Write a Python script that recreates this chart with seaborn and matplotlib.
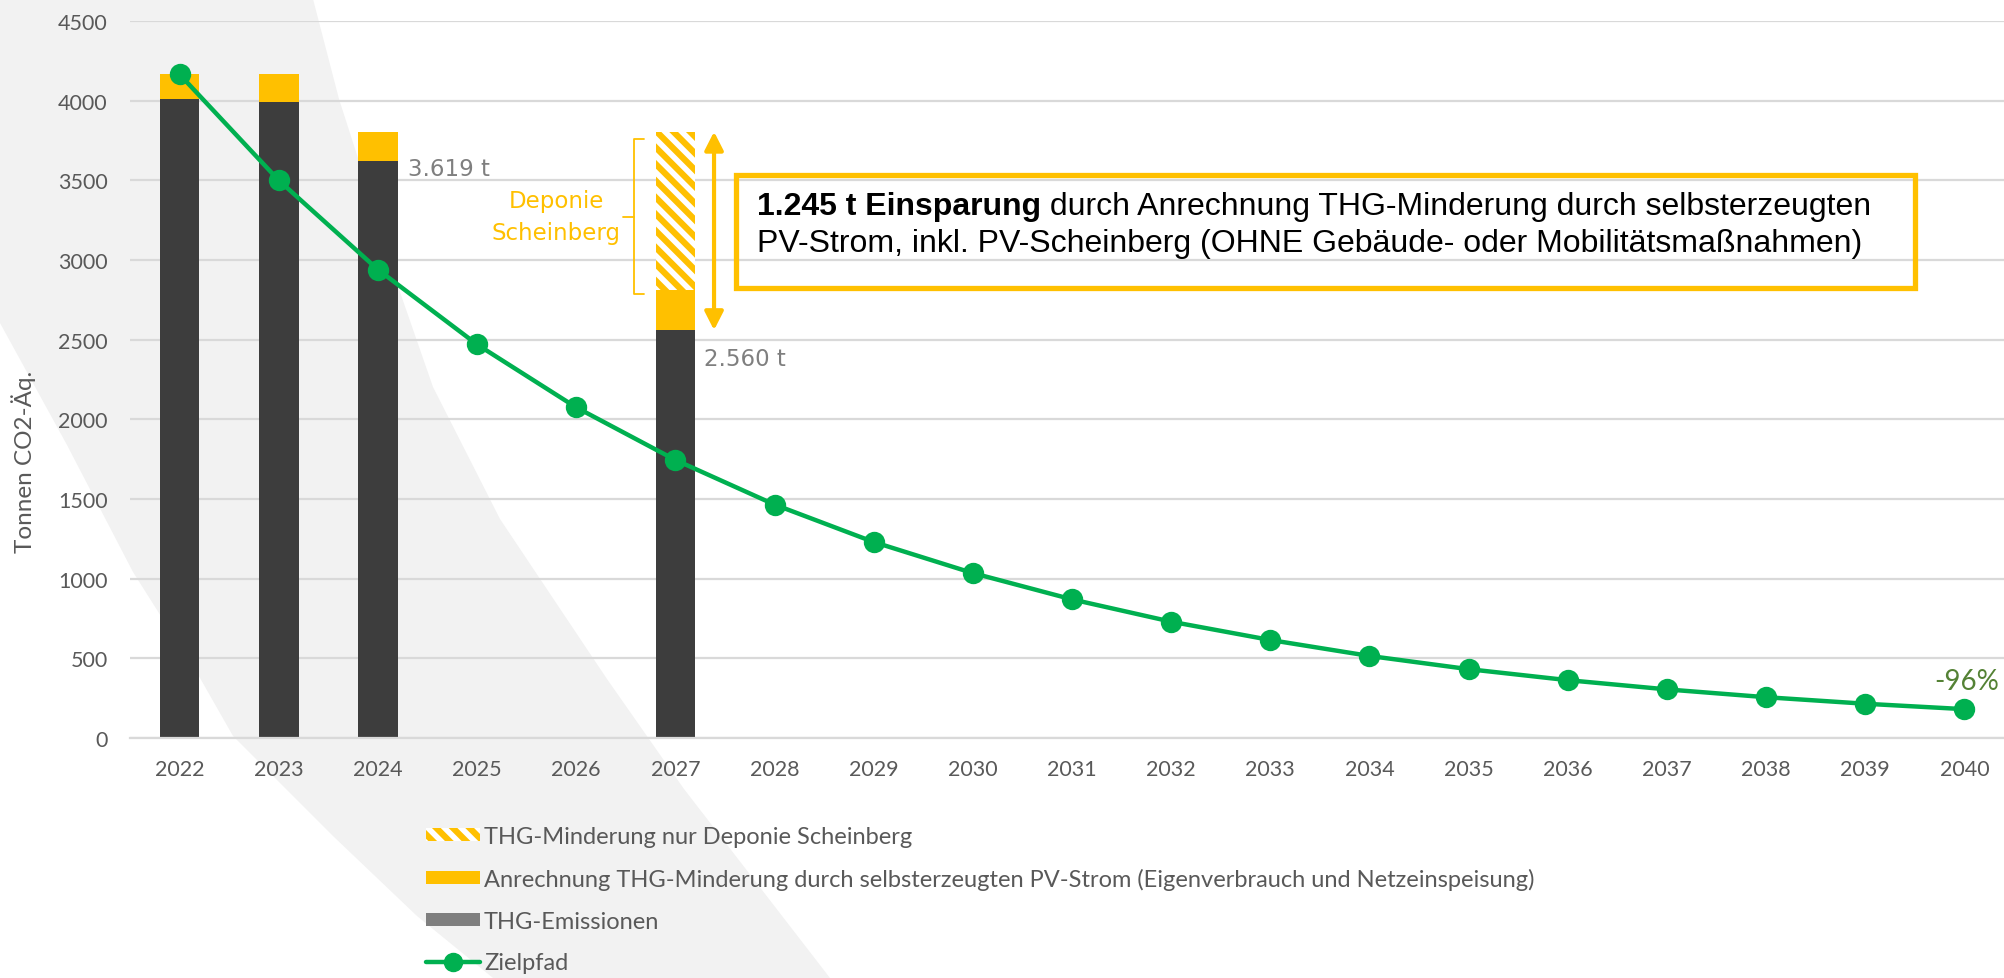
import matplotlib
matplotlib.use("Agg")
import matplotlib.pyplot as plt
import seaborn as sns
import pandas as pd
from matplotlib.patches import Polygon, Rectangle, Patch
from matplotlib.lines import Line2D

# --- data ---
years = [str(y) for y in range(2022, 2041)]
bar_years = ["2022", "2023", "2024", "2027"]
emissionen = [4010, 3990, 3619, 2560]
pv_strom = [155, 175, 185, 250]
deponie = [0, 0, 0, 995]
zielpfad = [4165, 3500, 2940, 2470, 2075, 1745, 1465, 1230, 1035, 870,
            730, 615, 515, 432, 363, 305, 256, 215, 181]
y_ticks = [0, 500, 1000, 1500, 2000, 2500, 3000, 3500, 4000, 4500]

legend_labels = ["THG-Minderung nur Deponie Scheinberg",
                 "Anrechnung THG-Minderung durch selbsterzeugten PV-Strom (Eigenverbrauch und Netzeinspeisung)",
                 "THG-Emissionen",
                 "Zielpfad"]

YELLOW = "#FFC000"
DARK = "#3d3d3d"
GREEN = "#00B050"
GREY_TXT = "#595959"
GRID = "#d9d9d9"

W, H = 2004, 979


def px(x, y):
    return (x / W, 1 - y / H)


df = pd.DataFrame({"Jahr": bar_years, "em": emissionen, "pv": pv_strom, "dep": deponie})
df["stufe1"] = df["em"] + df["pv"]
df["gesamt"] = df["stufe1"] + df["dep"]

sns.set_style("white")
plt.rcParams["font.family"] = ["Lato", "DejaVu Sans"]
plt.rcParams["hatch.linewidth"] = 4

fig = plt.figure(figsize=(W / 100, H / 100), dpi=100)

# grey swoosh in the background
swoosh = [(313, 0), (339, 100), (357, 156), (400, 293), (433, 388), (500, 520),
          (607, 680), (684, 790), (830, 979), (493, 979), (417, 917), (333, 837),
          (233, 737), (200, 679), (133, 573), (67, 446), (0, 324), (0, 0)]
fig.patches.append(Polygon([px(x, y) for x, y in swoosh], closed=True,
                           transform=fig.transFigure, facecolor="#f2f2f2",
                           edgecolor="none", zorder=-10))

x0, y0 = px(130, 739)
x1, y1 = px(2014, 22)
ax = fig.add_axes([x0, y0, x1 - x0, y1 - y0])
ax.set_facecolor("none")

sns.barplot(data=df, x="Jahr", y="gesamt", order=years, color=YELLOW, saturation=1,
            width=0.4, errorbar=None, hatch="\\\\", edgecolor="white", linewidth=0, ax=ax)
sns.barplot(data=df, x="Jahr", y="stufe1", order=years, color=YELLOW, saturation=1,
            width=0.4, errorbar=None, linewidth=0, ax=ax)
sns.barplot(data=df, x="Jahr", y="em", order=years, color=DARK, saturation=1,
            width=0.4, errorbar=None, linewidth=0, ax=ax)
sns.pointplot(x=years, y=zielpfad, order=years, color=GREEN, markers="o",
              markersize=13, linewidth=3.2, errorbar=None, ax=ax)

ax.set_xlim(-0.5, len(years) - 0.5)
ax.set_ylim(0, 4500)
ax.set_yticks(y_ticks)
ax.set_xticks(range(len(years)))
ax.set_xticklabels(years)
ax.set_xticks([i - 0.5 for i in range(len(years) + 1)], minor=True)
ax.set_xlabel("")
ax.set_ylabel("")
ax.set_axisbelow(True)
ax.yaxis.grid(True, color=GRID, lw=1.6)
ax.xaxis.grid(False)
for s in ["top", "right", "left"]:
    ax.spines[s].set_visible(False)
ax.spines["bottom"].set_color(GRID)
ax.spines["bottom"].set_linewidth(1.6)
ax.tick_params(axis="x", which="major", length=0, pad=15, labelsize=15.5, labelcolor=GREY_TXT)
ax.tick_params(axis="x", which="minor", length=7, width=1.5, color=GRID)
ax.tick_params(axis="y", length=0, pad=16, labelsize=15.5, labelcolor=GREY_TXT)

fig.text(*px(24, 462), "Tonnen CO2-Äq.", rotation=90, ha="center", va="center",
         fontsize=17.5, color=GREY_TXT)


def de(v):
    return f"{v:,}".replace(",", ".")


# value labels
p24 = years.index("2024")
ax.annotate(f"{de(emissionen[2])} t", xy=(p24 + 0.2, emissionen[2]), xytext=(10, -7),
            textcoords="offset pixels", ha="left", va="center", fontsize=16.5,
            color="#7f7f7f", family="DejaVu Sans")
p27 = years.index("2027")
ax.annotate(f"{de(emissionen[3])} t", xy=(p27 + 0.2, emissionen[3]), xytext=(9, -28),
            textcoords="offset pixels", ha="left", va="center", fontsize=16.5,
            color="#7f7f7f", family="DejaVu Sans")

# double arrow over the savings
top27 = df["gesamt"].iloc[3]
ax.annotate("", xy=(p27 + 0.39, top27), xytext=(p27 + 0.39, emissionen[3]),
            arrowprops=dict(arrowstyle="<|-|>,head_length=0.55,head_width=0.28",
                            color=YELLOW, lw=3, shrinkA=0, shrinkB=0, mutation_scale=20))

# brace for Deponie part
b_lo = df["stufe1"].iloc[3] - 25
b_hi = top27 - 45
b_mid = (b_lo + b_hi) / 2
ax.plot([p27 - 0.32, p27 - 0.42, p27 - 0.42, p27 - 0.32], [b_hi, b_hi, b_lo, b_lo],
        color=YELLOW, lw=1.3)
ax.plot([p27 - 0.42, p27 - 0.53], [b_mid, b_mid], color=YELLOW, lw=1.3)
ax.text(p27 - 1.2, b_mid, "Deponie\nScheinberg", ha="center", va="center",
        multialignment="center", fontsize=16.5, color=YELLOW, linespacing=1.5,
        family="DejaVu Sans")

# percentage at the end of the path
pct = round((1 - zielpfad[-1] / zielpfad[0]) * 100)
ax.annotate(f"-{pct}%", xy=(len(years) - 1, zielpfad[-1]), xytext=(2, 28),
            textcoords="offset pixels", ha="center", va="center", fontsize=20,
            color="#548235")

# box with savings text
bx0, by0 = px(736, 289)
bx1, by1 = px(1915, 176)
fig.patches.append(Rectangle((bx0, by0), bx1 - bx0, by1 - by0, transform=fig.transFigure,
                             facecolor="none", edgecolor=YELLOW, lw=3.8, zorder=5))
saving = pv_strom[3] + deponie[3]
t1 = fig.text(*px(757, 207), f"{de(saving)} t Einsparung", ha="left", va="center",
              fontsize=23, fontweight="bold", family="Liberation Sans", color="black")
ax.annotate(" durch Anrechnung THG-Minderung durch selbsterzeugten", xy=(1, 0),
            xycoords=t1, ha="left", va="bottom", fontsize=23,
            family="Liberation Sans", color="black", annotation_clip=False)
fig.text(*px(757, 244), "PV-Strom, inkl. PV-Scheinberg (OHNE Gebäude- oder Mobilitätsmaßnahmen)",
         ha="left", va="center", fontsize=23, family="Liberation Sans", color="black")

# legend
handles = [Patch(facecolor=YELLOW, edgecolor="white", hatch="\\\\", lw=0),
           Patch(facecolor=YELLOW, edgecolor="none"),
           Patch(facecolor="#7f7f7f", edgecolor="none"),
           Line2D([], [], color=GREEN, marker="o", lw=3.2, markersize=13)]
leg = fig.legend(handles, legend_labels, loc="upper left", bbox_to_anchor=px(426, 827),
                 frameon=False, fontsize=17, handlelength=2.3, handleheight=0.5,
                 handletextpad=0.15, labelspacing=0.88, borderpad=0, borderaxespad=0)
for t in leg.get_texts():
    t.set_color(GREY_TXT)

fig.savefig("out.png", dpi=100)
